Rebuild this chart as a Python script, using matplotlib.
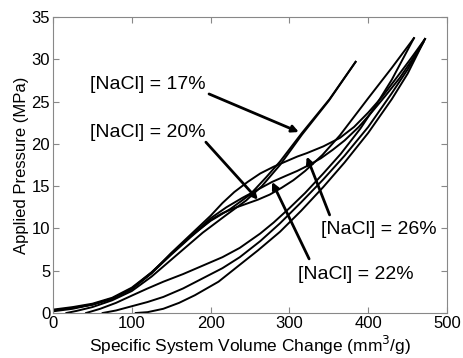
import matplotlib.pyplot as plt

plt.rcParams["font.family"] = ["Liberation Sans", "DejaVu Sans"]

# loading (upper) and unloading (lower) branches
# volume change (mm3/g), pressure (MPa)
load_17_x = [0, 25, 50, 75, 100, 125, 150, 175, 200, 225, 250, 270, 288, 316, 351, 384]
load_17_y = [0.4, 0.7, 1.1, 1.8, 3.0, 4.8, 7.0, 9.1, 10.9, 12.3, 14.0, 16.0, 17.9, 21.3, 25.3, 29.7]
unload_17_x = [384, 350, 316, 288, 265, 245, 220, 190, 150, 125, 100, 75, 50, 30, 17]
unload_17_y = [29.7, 25.1, 21.1, 17.5, 15.0, 13.3, 11.6, 9.5, 6.3, 4.3, 2.6, 1.5, 0.7, 0.25, 0.0]

load_20_x = [0, 25, 50, 75, 100, 125, 150, 175, 200, 215, 230, 245, 260, 275, 290, 305,
             320, 342, 364, 382, 400, 430, 458]
load_20_y = [0.3, 0.6, 1.0, 1.7, 2.9, 4.7, 6.9, 9.0, 11.0, 11.8, 12.4, 12.9, 13.4, 14.0,
             14.8, 15.7, 16.8, 18.7, 21.0, 23.2, 25.4, 29.0, 32.5]
unload_20_x = [458, 430, 410, 390, 365, 343, 320, 300, 280, 263, 237, 215, 190, 165,
               140, 120, 101, 80, 60, 42]
unload_20_y = [32.5, 27.6, 24.6, 21.8, 18.8, 16.5, 14.2, 12.4, 10.7, 9.4, 7.7, 6.6, 5.6,
               4.6, 3.7, 2.9, 2.1, 1.2, 0.5, 0.0]

load_22_x = [0, 25, 50, 75, 100, 125, 150, 175, 200, 220, 240, 260, 278, 295, 310, 325,
             340, 355, 370, 388, 405, 422, 440, 456, 472]
load_22_y = [0.3, 0.6, 1.0, 1.7, 2.9, 4.8, 7.0, 9.1, 11.2, 12.5, 13.6, 14.6, 15.5, 16.2,
             16.8, 17.5, 18.3, 19.3, 20.4, 22.0, 23.8, 25.7, 27.8, 30.0, 32.4]
unload_22_x = [470, 450, 430, 400, 370, 343, 315, 288, 263, 237, 215, 190, 165, 140,
               120, 100, 80, 63]
unload_22_y = [32.0, 28.8, 26.0, 22.0, 18.6, 15.8, 13.1, 10.6, 8.5, 6.6, 5.3, 4.1, 2.9,
               1.9, 1.3, 0.8, 0.3, 0.0]

load_26_x = [0, 25, 50, 75, 100, 125, 150, 175, 200, 215, 230, 247, 263, 280, 295, 310,
             322, 343, 364, 382, 400, 418, 435, 455, 472]
load_26_y = [0.2, 0.5, 1.0, 1.7, 2.8, 4.7, 7.1, 9.3, 11.5, 13.0, 14.3, 15.5, 16.5, 17.3,
             17.9, 18.5, 18.9, 19.7, 20.7, 22.0, 23.7, 25.6, 27.7, 30.2, 32.4]
unload_26_x = [472, 450, 430, 400, 370, 343, 315, 288, 260, 237, 210, 180, 160, 140,
               120, 105]
unload_26_y = [32.4, 28.3, 25.3, 21.3, 17.8, 14.9, 12.1, 9.6, 7.4, 5.7, 3.7, 2.1, 1.2,
               0.5, 0.1, 0.0]

curves = [
    (load_17_x, load_17_y), (unload_17_x, unload_17_y),
    (load_20_x, load_20_y), (unload_20_x, unload_20_y),
    (load_22_x, load_22_y), (unload_22_x, unload_22_y),
    (load_26_x, load_26_y), (unload_26_x, unload_26_y),
]

labels = ["[NaCl] = 17%", "[NaCl] = 20%", "[NaCl] = 26%", "[NaCl] = 22%"]
label_xy = [(47, 27.0), (47, 21.4), (340, 9.9), (311, 4.5)]
arrow_tail = [(198, 25.9), (194, 20.2), (351, 11.6), (325, 6.4)]
arrow_tip = [(312, 21.4), (260, 13.4), (322, 18.5), (278, 15.5)]

fig = plt.figure(figsize=(4.63, 3.58), dpi=100)
ax = fig.add_axes([0.1145, 0.1257, 0.851, 0.8268])

for cx, cy in curves:
    ax.plot(cx, cy, color="black", lw=1.4)

for text, (tx, ty), tail, tip in zip(labels, label_xy, arrow_tail, arrow_tip):
    ax.text(tx, ty, text, fontsize=14, va="center", ha="left")
    ax.annotate("", xy=tip, xytext=tail,
                arrowprops=dict(arrowstyle="-|>", lw=2, color="black",
                                mutation_scale=10, shrinkA=0, shrinkB=0))

ax.set_xlim(0, 500)
ax.set_ylim(0, 35)
ax.set_xticks([0, 100, 200, 300, 400, 500])
ax.set_yticks([0, 5, 10, 15, 20, 25, 30, 35])
ax.tick_params(direction="in", top=True, right=True, labelsize=12,
               color="#888888", length=4, pad=2)
for s in ax.spines.values():
    s.set_color("#888888")

ax.set_xlabel("Specific System Volume Change (mm$^3$/g)", fontsize=12.5, labelpad=2)
ax.set_ylabel("Applied Pressure (MPa)", fontsize=12, labelpad=2)

fig.savefig("out.png", dpi=100)
